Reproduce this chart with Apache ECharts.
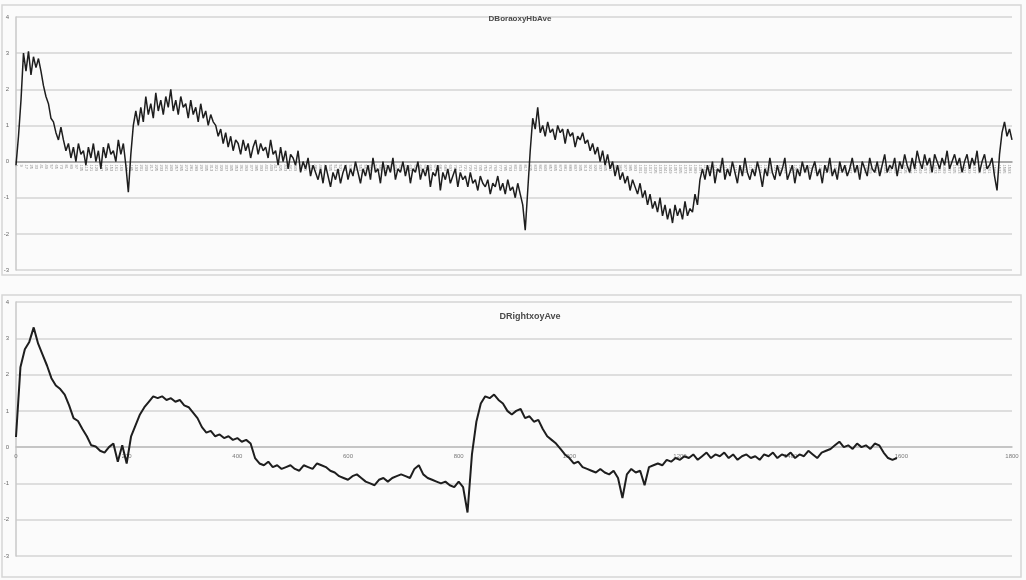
<!DOCTYPE html>
<html>
<head>
<meta charset="utf-8">
<script src="https://cdn.jsdelivr.net/npm/echarts@6/dist/echarts.min.js"></script>
<style>
  html, body { margin: 0; padding: 0; background: #fbfbfb; }
  #chart { width: 1026px; height: 580px; }
</style>
</head>
<body>
<div id="chart"></div>
<script>
// Upper panel: DBoraoxyHbAve, one value per sample group
const topValues = [
  -0.1, 0.7, 1.7, 3.0, 2.5, 3.05, 2.4, 2.9, 2.6, 2.85, 2.5, 2.1, 1.8, 1.6, 1.2, 1.1, 0.8, 0.6, 0.95, 0.6,
  0.3, 0.5, 0.1, 0.4, 0.0, 0.5, 0.2, 0.3, -0.1, 0.4, 0.1, 0.5, 0.0, 0.3, -0.2, 0.4, 0.1, 0.5, 0.2, 0.3,
  0.0, 0.6, 0.2, 0.5, -0.1, -0.85, 0.2, 1.0, 1.4, 1.0,
  1.5, 1.1, 1.8, 1.3, 1.6, 1.2, 1.9, 1.4, 1.7, 1.3, 1.8, 1.5, 2.0, 1.4, 1.7, 1.3, 1.8, 1.5, 1.6, 1.2,
  1.7, 1.3, 1.5, 1.1, 1.6, 1.2, 1.4, 1.0, 1.3, 1.1,
  1.0, 0.7, 0.9, 0.5, 0.8, 0.4, 0.7, 0.3, 0.6, 0.5, 0.2, 0.6, 0.3, 0.5, 0.1, 0.4, 0.6, 0.2, 0.5, 0.3,
  0.4, 0.1, 0.6, 0.2, 0.3, -0.1, 0.4, 0.0, 0.3, -0.2, 0.2, 0.1, -0.1, 0.3, -0.3, 0.0, -0.2, 0.1, -0.4, -0.1,
  -0.3, -0.5, -0.2, -0.6, -0.1, -0.4, -0.7, -0.3, -0.5, -0.2, -0.6, -0.3, -0.1, -0.5, -0.2, -0.4, 0.0, -0.3, -0.6, -0.2,
  -0.4, -0.1, -0.5, 0.1, -0.3, -0.2, -0.6, 0.0, -0.4, -0.1, -0.3, 0.1, -0.5, -0.2, -0.3, 0.0, -0.4, -0.1, -0.6, -0.2,
  -0.3, 0.0, -0.5, -0.2, -0.4, -0.1, -0.7, -0.3, -0.4, -0.1, -0.8, -0.3, -0.5, -0.2, -0.6, -0.4, -0.2, -0.7, -0.3, -0.5,
  -0.4, -0.7, -0.3, -0.6, -0.5, -0.8, -0.4, -0.6, -0.7, -0.5, -0.9, -0.6, -0.7, -0.4, -0.8, -0.6, -0.9, -0.5, -0.8, -0.7,
  -1.0, -0.6, -0.9, -1.2, -1.9, -0.8, 0.3, 1.2, 0.9, 1.5, 0.8,
  1.0, 0.7, 1.1, 0.8, 0.9, 0.6, 1.0, 0.8, 0.9, 0.5, 0.9, 0.7, 0.8, 0.4, 0.7, 0.6, 0.8, 0.5, 0.6, 0.3,
  0.5, 0.2, 0.4, 0.0, 0.3, -0.1, 0.2, -0.2, 0.0, -0.4, -0.1, -0.5, -0.3, -0.6, -0.4, -0.8, -0.5, -0.7, -0.9, -0.6,
  -1.0, -0.8, -1.2, -0.9, -1.3, -1.1, -1.4, -1.0, -1.5, -1.2, -1.6, -1.3, -1.7, -1.2, -1.5, -1.3, -1.6, -1.1, -1.5, -1.3,
  -1.4, -0.9, -1.2, -0.5, -0.2,
  -0.5, -0.1, -0.4, 0.0, -0.6, -0.2, -0.3, 0.1, -0.5, -0.2, -0.4, 0.0, -0.3, -0.6, -0.1, -0.4, 0.1, -0.3, -0.5, -0.2,
  -0.4, 0.0, -0.3, -0.7, -0.2, -0.4, 0.1, -0.3, -0.5, -0.1, -0.4, -0.2, 0.1, -0.5, -0.3, -0.1, -0.6, -0.2, -0.4, 0.0,
  -0.3, -0.1, -0.5, -0.2, 0.0, -0.4, -0.2, -0.6, -0.1, -0.3, 0.1, -0.4, -0.2, -0.5, 0.0, -0.3, -0.1, -0.4, -0.2, 0.1,
  -0.3, -0.1, -0.5, 0.0, -0.2, -0.4, 0.1, -0.2, -0.3, 0.0, -0.4, -0.1, 0.2, -0.3, -0.1, -0.2, 0.1, -0.4, 0.0, -0.2,
  0.2, -0.1, -0.3, 0.1, -0.2, 0.3, 0.0, -0.2, 0.2, -0.1, 0.1, -0.3, 0.2, 0.0, -0.2, 0.1, -0.1, 0.3, -0.2, 0.0,
  0.2, -0.1, 0.1, -0.3, 0.0, 0.2, -0.2, 0.1, -0.1, 0.3, -0.3, 0.0, 0.2, -0.2, -0.1, 0.1, -0.4, -0.8,
  0.2, 0.8, 1.1, 0.7, 0.9, 0.6
];
// sample numbers used as category labels (each value covers 4 samples)
const topCategories = topValues.map((_, i) => String(i * 4 + 1));

// Lower panel: DRightxoyAve, sampled every 8 units on the x axis
const bottomStep = 8;
const bottomValues = [
  0.28, 2.2, 2.7, 2.9, 3.3, 2.85, 2.55, 2.25, 1.9, 1.7, 1.6, 1.45, 1.15, 0.8, 0.72, 0.5, 0.3, 0.05, 0.02, -0.1,
  -0.15, 0.0, 0.1, -0.4, 0.05, -0.45, 0.3, 0.6, 0.9, 1.1, 1.25, 1.4, 1.35, 1.4, 1.3, 1.35, 1.25, 1.3, 1.15, 1.1,
  0.95, 0.8, 0.55, 0.4, 0.45, 0.3, 0.35, 0.25, 0.3, 0.2, 0.25, 0.15, 0.2, 0.1, -0.3, -0.45, -0.5, -0.4, -0.55, -0.5,
  -0.6, -0.55, -0.5, -0.6, -0.65, -0.5, -0.55, -0.6, -0.45, -0.5, -0.55, -0.65, -0.7, -0.8, -0.85, -0.9, -0.8, -0.75, -0.85, -0.95,
  -1.0, -1.05, -0.9, -0.85, -0.95, -0.85, -0.8, -0.75, -0.8, -0.85, -0.6, -0.5, -0.75, -0.85, -0.9, -0.95, -1.0, -0.95, -1.05, -1.1,
  -0.95, -1.1, -1.8, -0.2, 0.7, 1.2, 1.4, 1.35, 1.45, 1.3, 1.2, 1.0, 0.9, 1.0, 1.05, 0.8, 0.85, 0.7, 0.75, 0.5,
  0.3, 0.2, 0.1, -0.05, -0.2, -0.3, -0.45, -0.4, -0.55, -0.6, -0.65, -0.7, -0.6, -0.7, -0.75, -0.65, -0.85, -1.4, -0.75, -0.6,
  -0.7, -0.65, -1.05, -0.55, -0.5, -0.45, -0.5, -0.35, -0.4, -0.3, -0.35, -0.25, -0.3, -0.2, -0.35, -0.25, -0.15, -0.3, -0.2, -0.25,
  -0.15, -0.3, -0.2, -0.35, -0.25, -0.2, -0.3, -0.25, -0.35, -0.2, -0.25, -0.15, -0.3, -0.2, -0.25, -0.15, -0.3, -0.2, -0.25, -0.1,
  -0.2, -0.3, -0.15, -0.1, -0.05, 0.05, 0.15, 0.0, 0.05, -0.05, 0.1, 0.0, 0.05, -0.05, 0.1, 0.05, -0.15, -0.3, -0.35, -0.3
];
const bottomPoints = bottomValues.map((v, i) => [i * bottomStep, v]);

const yTicks = { min: -3, max: 4, interval: 1 };
const xTicksBottom = { min: 0, max: 1800, interval: 200 };

const gridColor = '#d4d4d4';
const labelColor = '#6a6a6a';

// plot boxes
const topGrid = { left: 16, right: 14, top: 17, height: 253 };
const bottomGrid = { left: 16, right: 14, top: 302, height: 254 };

// distance from the bottom of a plot box up to its zero line
function zeroLift(g) {
  return g.height * (0 - yTicks.min) / (yTicks.max - yTicks.min);
}

function yAxis(gridIndex) {
  return {
    type: 'value', gridIndex,
    min: yTicks.min, max: yTicks.max, interval: yTicks.interval,
    axisLine: { show: true, lineStyle: { color: '#c8c8c8', width: 1.5 } },
    axisTick: { show: false },
    axisLabel: { color: labelColor, fontSize: 6, margin: 7, fontFamily: 'Liberation Sans' },
    splitLine: { show: true, lineStyle: { color: gridColor, width: 1.5 } }
  };
}

const chart = echarts.init(document.getElementById('chart'), null, { renderer: 'canvas' });
chart.setOption({
  backgroundColor: '#fbfbfb',
  animation: false,
  title: [
    { text: 'DBoraoxyHbAve', left: 515, top: 10, textAlign: 'center',
      textStyle: { fontSize: 8, fontWeight: 'bold', color: '#4a4a4a', fontFamily: 'Liberation Sans' } },
    { text: 'DRightxoyAve', left: 525, top: 307, textAlign: 'center',
      textStyle: { fontSize: 9, fontWeight: 'bold', color: '#4a4a4a', fontFamily: 'Liberation Sans' } }
  ],
  graphic: [
    { type: 'rect', shape: { x: 2, y: 5, width: 1019, height: 270 },
      style: { fill: 'none', stroke: '#d6d6d6', lineWidth: 1.5 }, silent: true },
    { type: 'rect', shape: { x: 2, y: 295, width: 1019, height: 282 },
      style: { fill: 'none', stroke: '#d6d6d6', lineWidth: 1.5 }, silent: true }
  ],
  grid: [topGrid, bottomGrid],
  xAxis: [
    {
      type: 'category', gridIndex: 0, data: topCategories, boundaryGap: false,
      position: 'bottom', offset: -zeroLift(topGrid),
      axisLine: { onZero: false, lineStyle: { color: '#9a9a9a', width: 1.5 } },
      axisTick: { show: false },
      axisLabel: { interval: 1, rotate: -90, fontSize: 4, color: '#8a8a8a', margin: 3, fontFamily: 'Liberation Sans' },
      splitLine: { show: false }
    },
    {
      type: 'value', gridIndex: 1,
      min: xTicksBottom.min, max: xTicksBottom.max, interval: xTicksBottom.interval,
      position: 'bottom', offset: -zeroLift(bottomGrid),
      axisLine: { onZero: false, lineStyle: { color: '#bdbdbd', width: 1.5 } },
      axisTick: { show: false },
      axisLabel: { color: '#7a7a7a', fontSize: 6, margin: 6, fontFamily: 'Liberation Sans',
                   formatter: v => String(v) },
      splitLine: { show: false }
    }
  ],
  yAxis: [yAxis(0), yAxis(1)],
  series: [
    {
      type: 'line', xAxisIndex: 0, yAxisIndex: 0, data: topValues,
      showSymbol: false, symbol: 'none', z: 5,
      lineStyle: { color: '#1e1e1e', width: 1.5 }
    },
    {
      type: 'line', xAxisIndex: 1, yAxisIndex: 1, data: bottomPoints,
      showSymbol: false, symbol: 'none', z: 5,
      lineStyle: { color: '#1e1e1e', width: 2 }
    }
  ]
});
</script>
</body>
</html>
